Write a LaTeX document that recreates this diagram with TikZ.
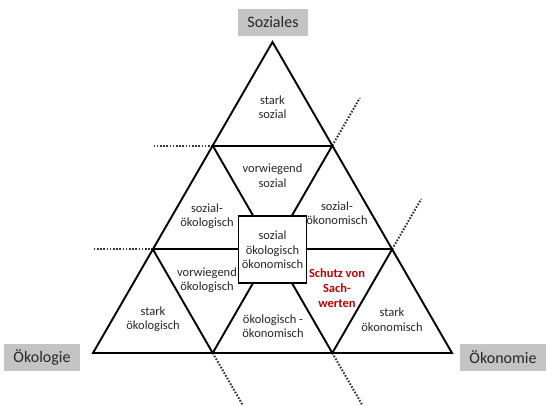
\documentclass[tikz,border=0pt]{standalone}
\usepackage{fontspec}
\setmainfont{Carlito}
\definecolor{lblgray}{HTML}{C4C4C4}
\definecolor{redtxt}{HTML}{C00000}
\definecolor{txt}{HTML}{262626}
\tikzset{
  grid/.style={line width=1.9pt, black},
  dots/.style={line width=2pt, black!80, dash pattern=on 1.6pt off 1.6pt},
  lbl/.style={fill=lblgray, minimum height=27pt, inner sep=0pt, text=txt, font=\fontsize{16}{19}\selectfont},
  cell/.style={align=center, text=txt, inner sep=0pt, font=\fontsize{12.5}{14.5}\selectfont},
  redcell/.style={align=center, text=redtxt, inner sep=0pt, font=\bfseries\fontsize{12.5}{15}\selectfont},
}
\begin{document}
\begin{tikzpicture}[x=1pt,y=-1pt]
\useasboundingbox (0,0) rectangle (546,405);
% grid points
\coordinate (A) at (272.5,42);
\coordinate (B1) at (212.7,145.6);
\coordinate (B2) at (332.3,145.6);
\coordinate (C1) at (152.9,249.3);
\coordinate (C2) at (272.5,249.3);
\coordinate (C3) at (392.1,249.3);
\coordinate (D1) at (93,353);
\coordinate (D2) at (212.7,353);
\coordinate (D3) at (332.3,353);
\coordinate (D4) at (452,353);
% dotted extension ends
\coordinate (E1) at (152,145.6);
\coordinate (E2) at (93,249.3);
\coordinate (E3) at (359.8,98);
\coordinate (E4) at (421.1,199.1);
\coordinate (E5) at (242.7,405);
\coordinate (E6) at (362.3,405);
% dotted lines
\draw[dots] (B1) -- (E1);
\draw[dots] (C1) -- (E2);
\draw[dots] (B2) -- (E3);
\draw[dots] (C3) -- (E4);
\draw[dots] (D2) -- (E5);
\draw[dots] (D3) -- (E6);
% triangle grid
\draw[grid] (A) -- (D1) -- (D4) -- cycle;
\draw[grid] (B1) -- (B2);
\draw[grid] (C1) -- (C3);
\draw[grid] (D2) -- (B2);
\draw[grid] (D3) -- (C3);
\draw[grid] (B1) -- (D3);
\draw[grid] (C1) -- (D2);
% centre box
\node[draw, line width=1.9pt, fill=white, minimum width=68pt, minimum height=67pt, inner sep=0pt] (box) at (C2) {};
\node[cell] (t0) at (272.5,250) {sozial\\ökologisch\\ökonomisch};
% cell labels
\node[cell] (t1) at (272.5,107) {stark\\sozial};
\node[cell] (t2) at (272.5,175.5) {vorwiegend\\sozial};
\node[cell] (t3) at (207,216) {sozial-\\ökologisch};
\node[cell] (t4) at (337,213) {sozial-\\ökonomisch};
\node[cell] (t5) at (207,280) {vorwiegend\\ökologisch};
\node[cell] (t6) at (153,319) {stark\\ökologisch};
\node[cell] (t7) at (273,326) {ökologisch -\\ökonomisch};
\node[redcell] (t8) at (337,288) {Schutz von\\Sach-\\werten};
\node[cell] (t9) at (392,319.5) {stark\\ökonomisch};
% corner labels
\node[lbl, minimum width=70pt] (soz) at (273,22.5) {Soziales};
\node[lbl, minimum width=76pt] (oekol) at (42,357.5) {Ökologie};
\node[lbl, minimum width=86pt] (oekon) at (503,357.5) {Ökonomie};
\end{tikzpicture}
\end{document}
